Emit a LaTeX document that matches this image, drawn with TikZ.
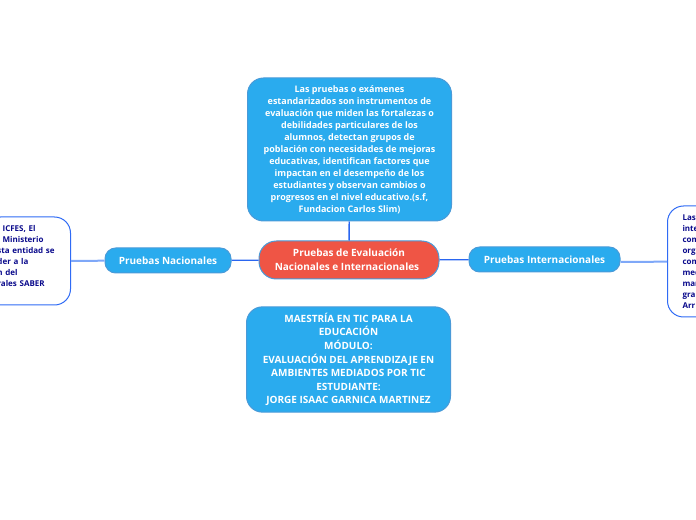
\documentclass[tikz,border=0pt]{standalone}
\usepackage{fontspec}
\setmainfont{Open Sans}
\definecolor{skyfill}{HTML}{2AABEE}
\definecolor{skyedge}{HTML}{4A9AD8}
\definecolor{redfill}{HTML}{EF5545}
\definecolor{leafedge}{HTML}{2F6BF5}
\definecolor{leaftext}{HTML}{0A0A8C}
\definecolor{darklink}{HTML}{2A66F0}
\definecolor{lightlink}{HTML}{7FA8F8}
\tikzset{every picture/.style={line width=0.75pt}}
\tikzset{
	basebox/.style={font=\bfseries\fontsize{6.75}{9}\selectfont,align=center,inner sep=0pt,text=white},
	infobox/.style={basebox,draw=skyedge,fill=skyfill,rounded corners=12pt,minimum width=153pt},
	topicbox/.style={basebox,font=\bfseries\fontsize{7.5}{9}\selectfont,draw=skyedge,fill=skyfill,rounded corners=8pt,minimum height=18.75pt},
	rootbox/.style={basebox,font=\bfseries\fontsize{7.5}{10.5}\selectfont,draw=skyedge,fill=redfill,rounded corners=13pt,minimum width=135pt,minimum height=28.5pt},
	leafbox/.style={font=\bfseries\fontsize{6}{8.25}\selectfont,align=left,text=leaftext,draw=leafedge,fill=white,rounded corners=12pt,inner ysep=0pt},
	strongwire/.style={draw=darklink,line width=1pt},
	softwire/.style={draw=lightlink,line width=1.5pt}
}

\begin{document}
\begin{tikzpicture}[x=0.75pt,y=0.75pt,yscale=-1,xscale=1]
	\useasboundingbox (0,0) rectangle (696,520);
	
	% Root
	\node [rootbox] (root) at (349,260) {Pruebas de Evaluación\\Nacionales e Internacionales\kern3pt};
	% Info boxes
	\node [infobox,minimum height=107.25pt] (intro) at (349.5,149.5) {Las pruebas o exámenes\\estandarizados son instrumentos de\\evaluación que miden las fortalezas o\\debilidades particulares de los\\alumnos, detectan grupos de\\población con necesidades de mejoras\\educativas, identifican factores que\\impactan en el desempeño de los\\estudiantes y observan cambios o\\progresos en el nivel educativo.(s.f,\\Fundacion Carlos Slim)};
	\node [infobox,minimum height=79pt,font=\bfseries\fontsize{7.5}{10.2}\selectfont] (credits) at (348.5,359.5) {MAESTRÍA EN TIC PARA LA\\EDUCACIÓN\\MÓDULO:\\EVALUACIÓN DEL APRENDIZAJE EN\\AMBIENTES MEDIADOS POR TIC\\ESTUDIANTE:\\JORGE ISAAC GARNICA MARTINEZ};
	% Topics
	\node [topicbox,minimum width=94.5pt] (nacional) at (168,260.5) {Pruebas Nacionales};
	\node [topicbox,minimum width=113.25pt] (internacional) at (544.5,259.5) {Pruebas Internacionales};
	% Leaves, cut by the page edge
	\node [leafbox,text width=45pt,inner xsep=9.75pt,minimum height=66pt,anchor=east] (leftleaf) at (71,261) {l ICFES, El\\l Ministerio\\sta entidad se\\der a la\\n del\\rales SABER\\\mbox{}};
	\node [leafbox,text width=40pt,inner xsep=11.25pt,minimum height=83.25pt,anchor=west] (rightleaf) at (667,261.5) {Las\\inte\\com\\org\\com\\med\\man\\gra\\Arr};
	
	% Links
	\draw [strongwire] (root) -- (intro);
	\draw [strongwire] (root) -- (nacional);
	\draw [strongwire] (root) -- (internacional);
	\draw [softwire] (nacional) -- (leftleaf);
	\draw [softwire] ([yshift=1.8pt]internacional.east) -- (rightleaf);
	
\end{tikzpicture}
\end{document}
